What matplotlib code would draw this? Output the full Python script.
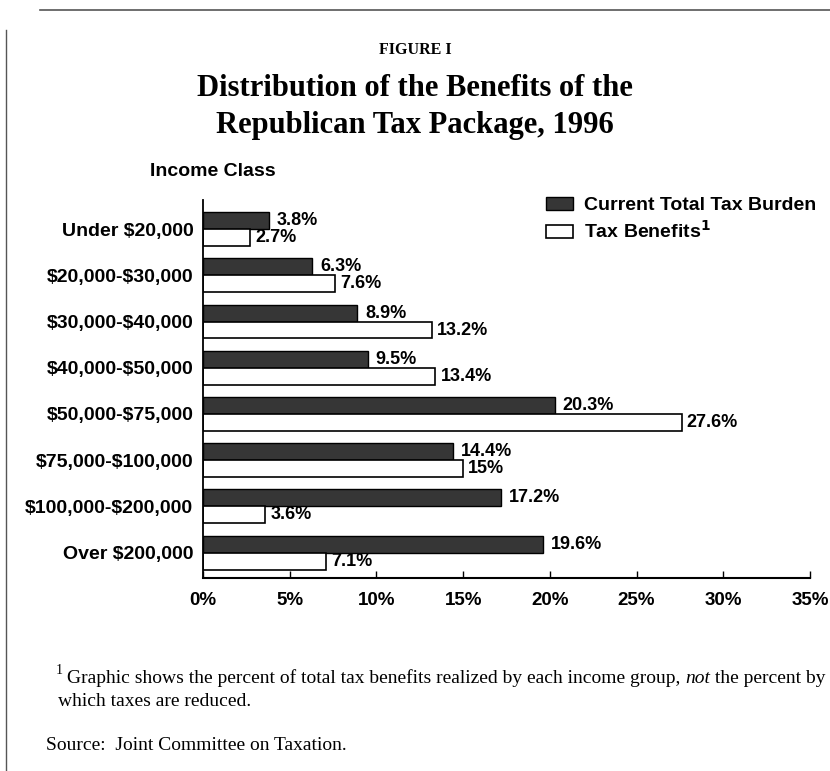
import numpy as np
import matplotlib.pyplot as plt
from matplotlib.lines import Line2D

# Data
categories = ['Under $20,000', '$20,000-$30,000', '$30,000-$40,000', '$40,000-$50,000',
              '$50,000-$75,000', '$75,000-$100,000', '$100,000-$200,000', 'Over $200,000']
tax_burden = [3.8, 6.3, 8.9, 9.5, 20.3, 14.4, 17.2, 19.6]
tax_benefits = [2.7, 7.6, 13.2, 13.4, 27.6, 15, 3.6, 7.1]
xticks = [0, 5, 10, 15, 20, 25, 30, 35]

sans = 'Liberation Sans'
serif = 'Liberation Serif'
W, H = 830, 771

fig = plt.figure(figsize=(8.3, 7.71), dpi=100)
ax = fig.add_axes([203 / W, 1 - 578 / H, 607 / W, 378 / H])

y = np.arange(len(categories))
h = 0.367
dark = ax.barh(y - h / 2, tax_burden, height=h, color='#363636', edgecolor='black', linewidth=1)
light = ax.barh(y + h / 2, tax_benefits, height=h, color='white', edgecolor='black', linewidth=1.2)

# value labels
for i, v in enumerate(tax_burden):
    ax.text(v + 0.45, i - h / 2, f'{v:g}%', va='center', ha='left',
            fontsize=13, fontweight='bold', family=sans)
for i, v in enumerate(tax_benefits):
    ax.text(v + 0.3, i + h / 2, f'{v:g}%', va='center', ha='left',
            fontsize=13, fontweight='bold', family=sans)

ax.set_xlim(0, 35)
ax.set_ylim(7.55, -0.63)
ax.set_xticks(xticks)
ax.set_xticklabels([f'{t}%' for t in xticks], fontsize=13.5, fontweight='bold', family=sans)
ax.set_yticks(y)
ax.set_yticklabels([c.replace('$', r'\$') for c in categories], fontsize=14,
                   fontweight='bold', family=sans)
ax.tick_params(axis='x', direction='in', length=5, width=1, pad=10)
ax.tick_params(axis='y', length=0, pad=7)
for s in ['top', 'right']:
    ax.spines[s].set_visible(False)
ax.spines['left'].set_linewidth(1.3)
ax.spines['bottom'].set_linewidth(1.5)

ax.legend([dark, light], ['Current Total Tax Burden', r'Tax Benefits$^{\mathbf{1}}$'],
          loc='upper left', bbox_to_anchor=(546 / W, 1 - 197 / H),
          bbox_transform=fig.transFigure, frameon=False, borderpad=0,
          handlelength=1.4, handleheight=0.68, handletextpad=0.55,
          labelspacing=0.3, borderaxespad=0,
          prop={'family': sans, 'weight': 'bold', 'size': 14})

# titles
fig.text(0.5, 1 - 50 / H, 'FIGURE I', ha='center', va='center',
         family=serif, fontweight='bold', fontsize=11.5)
fig.text(0.5, 1 - 88 / H, 'Distribution of the Benefits of the', ha='center', va='center',
         family=serif, fontweight='bold', fontsize=22)
fig.text(0.5, 1 - 125 / H, 'Republican Tax Package, 1996', ha='center', va='center',
         family=serif, fontweight='bold', fontsize=22)
fig.text(150 / W, 1 - 172 / H, 'Income Class', ha='left', va='center',
         family=sans, fontweight='bold', fontsize=14)

# footnote
fig.text(56 / W, 1 - 671 / H, '1', ha='left', va='center', family=serif, fontsize=10)
t1 = fig.text(67 / W, 1 - 683 / H,
              'Graphic shows the percent of total tax benefits realized by each income group, ',
              ha='left', va='baseline', family=serif, fontsize=14)
a2 = ax.annotate('not', xy=(1, 0), xycoords=t1, ha='left', va='bottom',
                 family=serif, fontsize=14, style='italic', annotation_clip=False)
ax.annotate(' the percent by', xy=(1, 0), xycoords=a2, ha='left', va='bottom',
            family=serif, fontsize=14, annotation_clip=False)
fig.text(58 / W, 1 - 701 / H, 'which taxes are reduced.', ha='left', va='center',
         family=serif, fontsize=14)
fig.text(46 / W, 1 - 745 / H, 'Source:  Joint Committee on Taxation.', ha='left',
         va='center', family=serif, fontsize=14)

# page border
fig.add_artist(Line2D([40 / W, 1], [1 - 10 / H, 1 - 10 / H], color='#555555', lw=1.2))
fig.add_artist(Line2D([6 / W, 6 / W], [0, 1 - 30 / H], color='#555555', lw=1.0))

fig.savefig('out.png', dpi=100)
